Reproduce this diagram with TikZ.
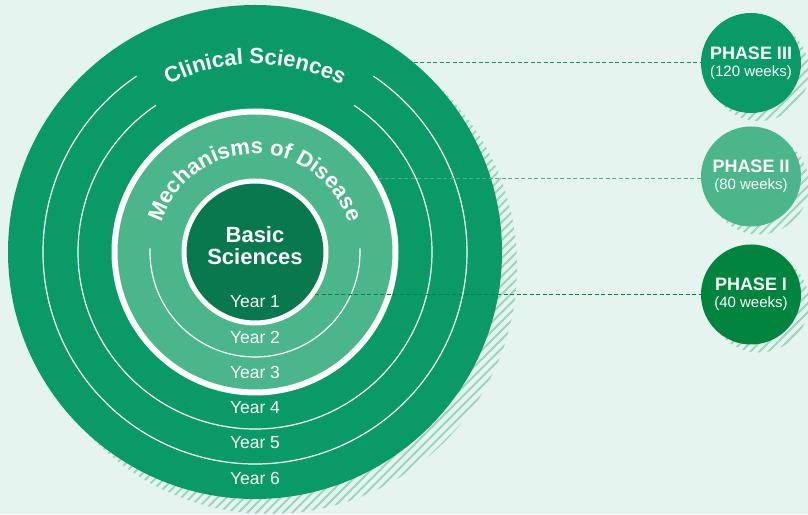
\documentclass[tikz,border=0pt]{standalone}
\usepackage{fontspec}
\setmainfont{Liberation Sans}
\usetikzlibrary{decorations.text}

\definecolor{bgmint}{HTML}{E5F4EF}
\definecolor{clingreen}{HTML}{0A9A68}
\definecolor{mechgreen}{HTML}{4BB68A}
\definecolor{basicgreen}{HTML}{08794C}
\definecolor{phaseonegreen}{HTML}{00843E}
\definecolor{hatchgreen}{HTML}{9CD6BF}

\newcommand{\hatchshadow}[3]{%
  \begin{scope}
    \clip (#1,#2) circle[radius=#3];
    \foreach \k in {-600,-591,...,820}
      \draw[hatch] (\k,0) -- ++(514,514);
  \end{scope}}

\begin{document}
\begin{tikzpicture}[x=1pt,y=1pt,
    hatch/.style={draw=hatchgreen, line width=2pt},
    ring/.style={circle, inner sep=0pt},
    yearline/.style={draw=white, line width=1.2pt},
    yearlbl/.style={text=white, font=\fontsize{17.5}{17.5}\selectfont},
    phase/.style={circle, inner sep=0pt, minimum size=100, text=white, align=center,
      font=\fontsize{15}{17}\selectfont},
    dline/.style={line width=0.9pt, dash pattern=on 4pt off 2.5pt}]

  \useasboundingbox (0,0) rectangle (808,514);
  \fill[bgmint] (0,0) rectangle (808,514);

  \hatchshadow{270}{247}{247}
  \hatchshadow{759}{443}{50}
  \hatchshadow{759}{329.5}{50}
  \hatchshadow{759}{211.5}{50}

  \node[ring, fill=clingreen, minimum size=494] (clinical) at (255,262) {};
  \draw[yearline] (clinical.center) ++(124:212) arc[start angle=124, end angle=416, radius=212];
  \draw[yearline] (clinical.center) ++(124:177) arc[start angle=124, end angle=416, radius=177];

  \node[ring, fill=mechgreen, draw=white, line width=6pt, minimum size=281] (mech) at (clinical.center) {};
  \draw[yearline] (mech.center) ++(178:105) arc[start angle=178, end angle=362, radius=105];

  \node[ring, fill=basicgreen, draw=white, line width=5pt, minimum size=142] (basic) at (clinical.center) {};

  \path[decorate, decoration={text along path, text align=center, text color=white,
      text={|\fontsize{22}{22}\selectfont\bfseries|Clinical Sciences}}]
    (clinical.center) ++(180:188) arc[start angle=180, end angle=0, radius=188];
  \path[decorate, decoration={text along path, text align=center, text color=white,
      text={|\fontsize{22}{22}\selectfont\bfseries|Mechanisms of Disease}}]
    (mech.center) ++(180:98) arc[start angle=180, end angle=0, radius=98];

  \node[text=white, align=center, font=\fontsize{22}{22}\selectfont\bfseries] (basictxt) at (255,268) {Basic\\Sciences};

  \node[yearlbl] (y1) at (255,212) {Year 1};
  \node[yearlbl] (y2) at (255,177) {Year 2};
  \node[yearlbl] (y3) at (255,142) {Year 3};
  \node[yearlbl] (y4) at (255,106) {Year 4};
  \node[yearlbl] (y5) at (255,71) {Year 5};
  \node[yearlbl] (y6) at (255,36) {Year 6};

  \node[phase, fill=clingreen] (phase3) at (751,451)
    {{\fontsize{18}{18}\selectfont\bfseries PHASE III}\\(120 weeks)};
  \node[phase, fill=mechgreen] (phase2) at (751,337.5)
    {{\fontsize{18}{18}\selectfont\bfseries PHASE II}\\(80 weeks)};
  \node[phase, fill=phaseonegreen] (phase1) at (751,219.5)
    {{\fontsize{18}{18}\selectfont\bfseries PHASE I}\\(40 weeks)};

  \draw[dline, draw=clingreen] (clinical.50) -- (clinical.50 -| phase3.west);
  \draw[dline, draw=mechgreen] (mech.31) -- (mech.31 -| phase2.west);
  \draw[dline, draw=phaseonegreen] (basic.-35) -- (basic.-35 -| phase1.west);

\end{tikzpicture}
\end{document}
